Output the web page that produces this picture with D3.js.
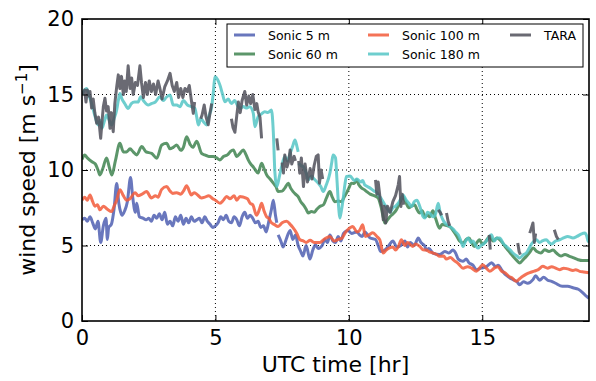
<!DOCTYPE html>
<html>
<head>
<meta charset="utf-8">
<script src="https://cdn.jsdelivr.net/npm/d3@7"></script>
<style>
  html, body { margin: 0; padding: 0; background: #fff; }
  svg { display: block; font-family: "DejaVu Sans", sans-serif; }
</style>
</head>
<body>
<div id="chart"></div>
<script>
// time [hr], wind speed [m/s]; null marks a gap in the record
var sonic5 = [[0,6.7],[0.1,6.8],[0.2,6.6],[0.3,6.9],[0.4,6.5],[0.5,6.1],[0.6,6.6],[0.7,5.2],[0.8,6.3],[0.9,6.8],[0.95,5.4],[1.0,6.2],[1.1,6.4],[1.2,7.4],[1.3,9.1],[1.38,7.8],[1.45,7.2],[1.5,7.0],[1.6,7.3],[1.7,7.9],[1.82,9.5],[1.9,8.2],[2.0,7.2],[2.05,7.8],[2.15,6.9],[2.3,6.8],[2.4,6.7],[2.5,6.8],[2.6,6.6],[2.7,7.0],[2.8,6.8],[2.9,7.1],[3.0,6.7],[3.1,7.2],[3.2,6.4],[3.3,6.6],[3.4,6.3],[3.5,6.9],[3.6,6.6],[3.7,7.0],[3.8,6.4],[3.9,6.8],[4.0,6.5],[4.1,6.9],[4.2,6.6],[4.3,6.7],[4.4,6.8],[4.5,6.5],[4.6,6.9],[4.7,6.6],[4.8,6.4],[4.9,6.2],[5.0,6.3],[5.1,6.5],[5.2,6.9],[5.3,6.7],[5.4,7.0],[5.5,6.6],[5.6,6.5],[5.7,6.9],[5.8,6.7],[5.9,6.3],[6.0,6.9],[6.1,7.2],[6.2,6.8],[6.3,7.0],[6.4,6.8],[6.5,6.5],[6.6,6.6],[6.7,6.2],[6.8,6.3],[6.9,5.9],[7.0,6.6],[7.1,7.4],[7.17,8.0],[7.25,7.0],[7.3,6.5],null,[7.35,5.7],[7.45,5.3],[7.54,4.9],[7.65,5.4],[7.8,6.0],[7.9,5.4],[8.0,5.7],[8.1,5.0],[8.2,4.6],[8.28,4.3],[8.4,5.0],[8.54,4.1],[8.65,4.7],[8.75,5.05],[8.85,4.8],[9.0,5.0],[9.1,5.4],[9.2,5.2],[9.29,5.7],[9.4,5.3],[9.5,5.2],[9.6,5.6],[9.7,5.3],[9.8,5.8],[9.97,6.0],[10.1,5.8],[10.3,5.9],[10.4,5.7],[10.5,5.6],[10.6,5.9],[10.7,5.7],[10.8,5.5],[11.0,5.4],[11.1,5.0],[11.2,4.6],[11.35,4.7],[11.5,5.0],[11.65,5.3],[11.8,4.9],[11.95,5.0],[12.1,5.3],[12.2,4.9],[12.3,5.2],[12.45,5.0],[12.6,5.5],[12.7,5.2],[12.85,4.95],[12.9,4.7],[13.0,4.8],[13.15,4.5],[13.4,4.4],[13.6,4.6],[13.75,4.5],[13.9,4.7],[14.0,4.5],[14.1,4.1],[14.27,3.95],[14.4,4.1],[14.5,3.86],[14.65,3.7],[14.78,3.4],[14.95,3.5],[15.16,3.6],[15.35,3.86],[15.5,3.6],[15.6,3.7],[15.72,3.4],[15.85,3.1],[15.95,2.96],[16.15,2.74],[16.3,2.6],[16.4,2.4],[16.55,2.6],[16.7,2.5],[16.9,2.74],[17.0,3.0],[17.15,2.7],[17.3,2.9],[17.45,2.7],[17.6,2.63],[17.75,2.5],[18.0,2.3],[18.2,2.3],[18.4,2.2],[18.6,2.1],[18.75,1.9],[18.9,1.64],[19.0,1.5]];

var sonic60 = [[0,10.7],[0.1,11.0],[0.2,10.8],[0.36,10.56],[0.5,10.4],[0.6,10.0],[0.67,9.67],[0.78,10.1],[0.92,10.8],[1.02,10.2],[1.12,9.67],[1.25,10.6],[1.42,11.77],[1.55,11.2],[1.67,11.2],[1.8,11.4],[1.92,11.2],[2.05,11.0],[2.24,11.55],[2.4,11.2],[2.61,11.1],[2.8,10.78],[2.99,11.66],[3.17,11.77],[3.3,11.4],[3.42,11.5],[3.55,11.66],[3.7,11.3],[3.8,11.5],[3.92,12.2],[4.05,11.7],[4.15,11.5],[4.3,11.9],[4.48,11.1],[4.6,11.0],[4.75,10.9],[4.92,10.9],[5.05,10.8],[5.17,10.67],[5.3,10.9],[5.45,11.0],[5.55,11.2],[5.67,11.33],[5.8,10.9],[5.92,11.1],[6.04,11.33],[6.15,11.0],[6.23,10.67],[6.32,10.4],[6.42,10.2],[6.5,10.0],[6.6,9.8],[6.73,10.45],[6.82,10.1],[6.92,9.68],[7.05,9.4],[7.17,9.13],[7.27,8.9],[7.35,8.57],[7.5,8.6],[7.6,8.8],[7.73,9.13],[7.82,8.8],[7.91,8.57],[8.0,8.4],[8.1,8.24],[8.2,7.9],[8.29,7.7],[8.4,7.4],[8.48,7.15],[8.6,7.25],[8.7,7.2],[8.8,7.4],[8.91,7.58],[9.05,7.7],[9.15,8.1],[9.29,8.57],[9.38,8.2],[9.48,7.9],[9.6,7.95],[9.73,7.9],[9.82,8.2],[9.91,8.47],[10.0,8.8],[10.1,9.13],[10.2,9.1],[10.29,9.35],[10.38,9.0],[10.48,8.8],[10.58,8.7],[10.67,8.57],[10.8,8.4],[10.95,8.3],[11.1,8.14],[11.2,7.6],[11.3,6.8],[11.35,6.49],[11.45,6.7],[11.54,6.9],[11.66,7.1],[11.78,7.36],[11.9,7.8],[12.03,8.24],[12.15,7.8],[12.25,7.5],[12.35,7.6],[12.47,7.7],[12.55,7.4],[12.66,7.15],[12.75,7.3],[12.85,6.9],[12.95,7.0],[13.03,6.9],[13.15,7.3],[13.25,6.8],[13.4,6.15],[13.5,6.4],[13.6,6.35],[13.78,6.26],[13.9,6.0],[14.05,5.6],[14.15,5.3],[14.28,5.17],[14.4,5.4],[14.5,5.5],[14.6,5.2],[14.7,4.94],[14.8,5.2],[14.9,5.38],[15.0,5.1],[15.1,5.2],[15.28,5.6],[15.4,5.3],[15.55,5.5],[15.7,5.3],[15.9,4.83],[16.05,4.5],[16.15,4.28],[16.3,4.0],[16.4,3.84],[16.55,4.1],[16.65,4.28],[16.8,4.6],[16.9,4.83],[17.05,4.6],[17.2,4.5],[17.34,4.72],[17.5,4.6],[17.65,4.7],[17.78,4.5],[17.95,4.3],[18.1,4.4],[18.25,4.3],[18.4,4.2],[18.59,4.06],[18.75,4.0],[18.84,4.0],[19.0,4.0]];

var sonic100 = [[0,8.0],[0.1,8.2],[0.2,8.0],[0.3,8.35],[0.4,7.9],[0.49,7.6],[0.58,7.7],[0.67,7.36],[0.8,7.6],[0.95,7.4],[1.11,7.25],[1.2,7.6],[1.3,8.0],[1.42,8.7],[1.55,8.3],[1.67,8.0],[1.8,8.1],[1.99,8.5],[2.1,8.3],[2.25,8.4],[2.42,8.57],[2.6,8.15],[2.75,8.3],[2.85,8.2],[2.98,8.7],[3.17,8.9],[3.3,8.6],[3.4,8.45],[3.55,8.5],[3.7,8.4],[3.8,8.6],[3.92,8.95],[4.1,8.35],[4.2,8.5],[4.3,8.4],[4.48,8.15],[4.6,8.2],[4.75,8.3],[4.9,8.1],[5.0,8.0],[5.17,7.8],[5.3,8.0],[5.42,8.25],[5.55,8.1],[5.7,8.3],[5.8,8.0],[5.92,8.25],[6.05,8.2],[6.2,8.1],[6.3,7.8],[6.4,7.7],[6.54,7.0],[6.65,7.4],[6.73,7.8],[6.82,7.3],[6.92,6.9],[7.0,6.8],[7.1,6.5],[7.2,6.4],[7.35,6.26],[7.5,6.5],[7.67,6.6],[7.8,6.4],[7.9,6.2],[8.05,5.8],[8.16,5.4],[8.3,5.3],[8.4,5.2],[8.55,5.35],[8.7,5.2],[8.91,5.2],[9.1,5.45],[9.29,5.6],[9.45,5.3],[9.6,5.4],[9.75,5.5],[9.85,5.8],[9.96,6.04],[10.15,6.26],[10.3,5.9],[10.4,6.0],[10.52,6.37],[10.62,5.6],[10.75,5.7],[10.9,5.84],[11.05,5.6],[11.16,5.38],[11.29,4.5],[11.4,4.7],[11.53,4.85],[11.65,4.9],[11.75,4.7],[11.85,4.9],[11.97,5.38],[12.1,5.0],[12.2,5.2],[12.4,4.94],[12.5,5.1],[12.66,4.94],[12.78,4.72],[12.9,4.7],[13.0,4.6],[13.16,4.5],[13.3,4.4],[13.4,4.28],[13.55,4.3],[13.66,4.1],[13.8,4.2],[13.95,4.0],[14.1,3.8],[14.28,3.5],[14.45,3.6],[14.6,3.5],[14.78,3.3],[14.9,3.5],[15.02,3.73],[15.15,3.5],[15.28,3.3],[15.45,3.5],[15.58,3.6],[15.72,3.3],[15.85,3.2],[16.0,2.95],[16.1,2.87],[16.28,2.63],[16.4,2.8],[16.52,2.96],[16.65,3.1],[16.78,3.2],[16.95,3.3],[17.1,3.4],[17.27,3.62],[17.45,3.5],[17.6,3.6],[17.75,3.5],[17.9,3.4],[18.05,3.5],[18.2,3.45],[18.4,3.35],[18.5,3.4],[18.65,3.29],[18.8,3.25],[19.0,3.2]];

var sonic180 = [[0,15.0],[0.1,15.3],[0.17,15.4],[0.25,15.0],[0.36,14.4],[0.45,13.8],[0.55,13.2],[0.61,12.98],[0.68,13.3],[0.74,12.76],[0.85,13.3],[0.92,13.64],[1.02,13.3],[1.11,12.98],[1.2,13.4],[1.3,13.97],[1.36,14.6],[1.42,15.07],[1.5,14.7],[1.6,14.4],[1.73,14.08],[1.85,14.4],[1.97,14.5],[2.1,14.5],[2.2,14.85],[2.3,14.6],[2.48,14.3],[2.6,14.4],[2.75,14.5],[2.92,14.85],[3.05,14.6],[3.15,14.8],[3.3,14.96],[3.42,14.3],[3.55,14.3],[3.67,14.19],[3.8,14.6],[3.95,14.3],[4.1,14.2],[4.23,14.08],[4.3,13.5],[4.36,12.98],[4.45,13.4],[4.55,13.2],[4.67,12.98],[4.76,13.6],[4.86,14.19],[4.93,15.3],[4.98,16.17],[5.08,16.0],[5.17,15.62],[5.27,15.0],[5.36,14.52],[5.48,14.7],[5.6,14.4],[5.72,14.6],[5.82,14.3],[5.92,14.08],[6.05,14.2],[6.15,14.1],[6.29,14.19],[6.42,13.75],[6.48,12.87],[6.6,13.53],[6.72,13.7],[6.85,13.86],[6.97,13.8],[7.1,13.97],[7.17,12.5],[7.23,9.79],[7.3,8.9],[7.4,9.6],[7.48,10.22],[7.6,10.89],[7.7,10.6],[7.8,11.1],[7.9,11.6],[7.98,11.99],[8.05,11.6],[8.1,11.2],null,[8.12,10.45],[8.2,10.3],[8.29,10.22],[8.4,9.8],[8.48,9.35],[8.6,9.6],[8.7,9.4],[8.85,9.13],[8.95,8.9],[9.04,8.57],[9.15,9.0],[9.29,9.79],[9.36,10.5],[9.41,11.0],[9.5,10.8],[9.55,9.5],[9.62,7.5],[9.66,6.82],[9.72,7.3],[9.78,8.0],[9.85,9.0],[9.91,9.57],[10.05,9.6],[10.2,9.3],[10.3,9.4],[10.45,9.2],[10.52,9.3],[10.6,9.0],[10.7,8.9],[10.8,8.8],[10.95,8.6],[11.05,8.5],[11.16,8.24],[11.25,8.0],[11.35,7.7],[11.45,7.4],[11.55,7.2],[11.65,7.5],[11.75,7.6],[11.85,7.8],[11.95,8.1],[12.03,8.35],[12.15,8.0],[12.25,7.8],[12.35,7.58],[12.45,7.9],[12.55,8.0],[12.66,7.58],[12.78,6.92],[12.85,6.82],[12.95,7.2],[13.05,7.1],[13.15,6.9],[13.25,7.1],[13.35,7.8],[13.42,7.2],[13.5,6.8],[13.6,6.49],[13.75,6.3],[13.9,6.1],[14.0,5.9],[14.1,5.71],[14.2,5.3],[14.28,4.94],[14.38,5.3],[14.47,5.5],[14.57,5.2],[14.65,5.3],[14.75,5.0],[14.84,4.83],[14.95,5.0],[15.05,5.1],[15.2,5.4],[15.34,5.71],[15.45,5.3],[15.55,5.5],[15.65,5.5],[15.8,5.1],[15.9,4.94],[16.05,4.7],[16.15,4.5],[16.3,4.3],[16.4,4.17],[16.55,4.4],[16.65,4.5],[16.75,4.8],[16.85,5.1],[17.03,5.38],[17.15,5.2],[17.25,5.3],[17.4,5.38],[17.5,5.2],[17.6,5.1],[17.75,5.3],[17.9,5.38],[18.05,5.5],[18.2,5.6],[18.4,5.5],[18.55,5.6],[18.7,5.75],[18.84,5.82],[18.92,5.6],[18.97,5.27],[19.0,5.3]];

var tara = [[0.05,15.0],[0.1,15.3],[0.15,14.5],[0.2,15.3],[0.25,14.9],[0.3,15.2],[0.36,14.1],[0.42,14.7],[0.48,13.8],[0.55,13.1],[0.62,13.5],[0.7,12.1],[0.75,13.2],[0.8,14.2],[0.86,14.75],[0.92,13.9],[0.98,14.2],[1.05,12.76],[1.1,13.8],[1.17,12.54],[1.23,14.4],[1.3,15.5],[1.36,16.3],[1.42,15.4],[1.48,16.2],[1.55,15.0],[1.6,15.9],[1.66,15.2],[1.73,16.9],[1.8,15.4],[1.86,16.1],[1.92,15.0],[2.0,15.8],[2.08,15.6],[2.17,16.9],[2.23,15.8],[2.3,14.8],[2.38,15.8],[2.45,15.0],[2.52,15.9],[2.6,15.2],[2.68,15.7],[2.76,15.0],[2.85,15.9],[2.92,15.4],[3.0,14.7],[3.1,15.5],[3.2,15.9],[3.3,16.4],[3.38,15.6],[3.46,15.2],[3.55,15.8],[3.62,14.8],[3.7,15.4],[3.78,14.8],[3.86,15.4],[3.95,15.2],[4.02,15.6],[4.1,14.6],[4.17,13.75],[4.22,14.5],null,[4.45,13.4],[4.5,13.64],[4.58,14.3],[4.65,13.5],[4.73,13.0],[4.8,13.8],[4.86,14.4],null,[5.6,13.4],[5.66,12.8],[5.73,12.5],[5.8,13.6],[5.86,14.5],[5.93,13.8],[6.0,14.6],[6.1,15.2],[6.17,14.3],[6.25,14.9],[6.32,14.4],[6.4,15.0],[6.48,14.0],[6.55,14.4],[6.6,13.86],[6.67,13.5],[6.73,12.1],null,[7.3,12.1],[7.35,11.3],null,[7.5,10.5],[7.55,9.8],[7.6,11.0],[7.68,10.2],[7.75,10.6],[7.8,11.33],[7.86,10.4],[7.95,10.9],[8.0,10.6],null,[8.12,10.6],[8.16,9.79],[8.22,10.8],[8.3,8.9],[8.36,10.4],[8.45,9.2],[8.55,10.1],[8.62,9.4],[8.7,10.3],[8.78,10.9],[8.85,11.0],[8.9,9.13],[8.96,10.0],[9.02,9.4],null,[11.0,9.35],[11.05,8.4],[11.1,9.2],[11.18,8.0],[11.25,7.5],[11.29,6.7],[11.33,7.6],[11.38,6.49],[11.45,7.6],[11.55,7.2],[11.65,7.9],[11.75,8.3],[11.85,9.0],[11.9,9.57],[11.95,7.58],[12.0,8.4],[12.05,7.7],null,[13.35,7.36],[13.42,7.2],[13.48,7.0],null,[13.66,7.15],[13.72,6.6],[13.78,6.3],null,[15.26,5.71],[15.3,4.72],null,[16.33,5.17],[16.38,4.6],[16.43,4.4],null,[16.78,5.82],[16.85,6.2],[16.9,6.49],[16.95,5.2],[17.0,5.8],null,[17.7,6.04],[17.78,5.6],[17.85,5.4]];

var seriesNames = ['Sonic 5 m', 'Sonic 60 m', 'Sonic 100 m', 'Sonic 180 m', 'TARA'];
var seriesColors = ['#4f5fb2', '#3f8450', '#f25a3a', '#55c6c6', '#50505a'];
var xTicks = [0, 5, 10, 15];
var yTicks = [0, 5, 10, 15, 20];

(function () {
  var W = 596, H = 381;
  var margin = {top: 19, right: 7, bottom: 60, left: 82};
  var iw = W - margin.left - margin.right;
  var ih = H - margin.top - margin.bottom;
  var allSeries = [sonic5, sonic60, sonic100, sonic180, tara];

  var svg = d3.select('#chart').append('svg')
    .attr('width', W)
    .attr('height', H);

  var x = d3.scaleLinear().domain([0, 19]).range([0, iw]);
  var y = d3.scaleLinear().domain([0, 20]).range([ih, 0]);

  svg.append('defs').append('clipPath').attr('id', 'plotClip')
    .append('rect').attr('width', iw).attr('height', ih);

  var g = svg.append('g').attr('transform', 'translate(' + margin.left + ',' + margin.top + ')');

  // dotted grid
  var grid = g.append('g');
  grid.selectAll('line.gx').data(xTicks.filter(function (d) { return d > 0; })).enter()
    .append('line')
    .attr('x1', function (d) { return x(d); }).attr('x2', function (d) { return x(d); })
    .attr('y1', 0).attr('y2', ih)
    .attr('stroke', '#000').attr('stroke-width', 1).attr('stroke-dasharray', '1,3');
  grid.selectAll('line.gy').data(yTicks.filter(function (d) { return d > 0 && d < 20; })).enter()
    .append('line')
    .attr('x1', 0).attr('x2', iw)
    .attr('y1', function (d) { return y(d); }).attr('y2', function (d) { return y(d); })
    .attr('stroke', '#000').attr('stroke-width', 1).attr('stroke-dasharray', '1,3');

  // series lines: sonic records are smooth, TARA stays spiky
  function makeLine(curve) {
    return d3.line()
      .defined(function (d) { return d !== null; })
      .x(function (d) { return x(d[0]); })
      .y(function (d) { return y(d[1]); })
      .curve(curve);
  }
  var smoothLine = makeLine(d3.curveMonotoneX);
  var rawLine = makeLine(d3.curveLinear);

  var lines = g.append('g').attr('clip-path', 'url(#plotClip)');
  allSeries.forEach(function (s, i) {
    lines.append('path')
      .datum(s)
      .attr('d', i === 4 ? rawLine : smoothLine)
      .attr('fill', 'none')
      .attr('stroke', seriesColors[i])
      .attr('stroke-width', 3)
      .attr('stroke-opacity', 0.85)
      .attr('stroke-linejoin', 'round')
      .attr('stroke-linecap', 'butt');
  });

  // axes: ticks point inward on all four sides
  function styleAxis(sel) {
    sel.select('.domain').remove();
    sel.selectAll('.tick line').attr('stroke', '#000').attr('stroke-width', 1);
    sel.selectAll('.tick text')
      .attr('fill', '#000')
      .style('font-size', '21px')
      .style('font-family', '"DejaVu Sans", sans-serif');
  }

  g.append('g').attr('transform', 'translate(0,' + ih + ')')
    .call(d3.axisBottom(x).tickValues(xTicks).tickSize(-6).tickPadding(9).tickFormat(d3.format('d')))
    .call(styleAxis);
  g.append('g')
    .call(d3.axisTop(x).tickValues(xTicks).tickSize(-6).tickFormat(''))
    .call(styleAxis);
  g.append('g')
    .call(d3.axisLeft(y).tickValues(yTicks).tickSize(-6).tickPadding(8).tickFormat(d3.format('d')))
    .call(styleAxis);
  g.append('g').attr('transform', 'translate(' + iw + ',0)')
    .call(d3.axisRight(y).tickValues(yTicks).tickSize(-6).tickFormat(''))
    .call(styleAxis);

  g.append('rect')
    .attr('width', iw).attr('height', ih)
    .attr('fill', 'none').attr('stroke', '#000').attr('stroke-width', 1.6);

  // axis labels
  svg.append('text')
    .attr('x', margin.left + iw / 2)
    .attr('y', 372)
    .attr('text-anchor', 'middle')
    .style('font-size', '22px')
    .text('UTC time [hr]');

  var yl = svg.append('text')
    .attr('transform', 'translate(35,' + (margin.top + ih / 2) + ') rotate(-90)')
    .attr('text-anchor', 'middle')
    .style('font-size', '22px');
  yl.append('tspan').text('wind speed [m s');
  yl.append('tspan').attr('dy', -8).style('font-size', '15px').text('\u22121');
  yl.append('tspan').attr('dy', 8).text(']');

  // legend, filled column by column
  var legend = svg.append('g').attr('transform', 'translate(227,24)');
  legend.append('rect')
    .attr('width', 356).attr('height', 43)
    .attr('fill', '#fff').attr('stroke', '#000').attr('stroke-width', 1);
  var colX = [7, 141, 283];
  var rowY = [11, 30];
  seriesNames.forEach(function (name, i) {
    var cx = colX[Math.floor(i / 2)];
    var cy = rowY[i % 2];
    legend.append('line')
      .attr('x1', cx).attr('x2', cx + 21)
      .attr('y1', cy).attr('y2', cy)
      .attr('stroke', seriesColors[i])
      .attr('stroke-width', 3)
      .attr('stroke-opacity', 0.85);
    legend.append('text')
      .attr('x', cx + 34)
      .attr('y', cy + 4.5)
      .style('font-size', '12.5px')
      .text(name);
  });
})();
</script>
</body>
</html>
